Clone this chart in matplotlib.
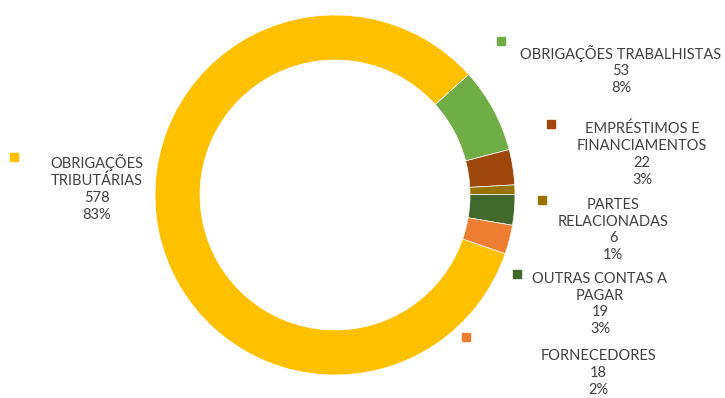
import matplotlib
matplotlib.use("Agg")
import matplotlib.pyplot as plt
from matplotlib.patches import Rectangle

# dados do gráfico
categorias = ["OBRIGAÇÕES\nTRIBUTÁRIAS", "OBRIGAÇÕES TRABALHISTAS", "EMPRÉSTIMOS E\nFINANCIAMENTOS",
              "PARTES\nRELACIONADAS", "OUTRAS CONTAS A\nPAGAR", "FORNECEDORES"]
valores = [578, 53, 22, 6, 19, 18]
percentuais = ["83%", "8%", "3%", "1%", "3%", "2%"]
cores = ["#FFC000", "#70AD47", "#9E480E", "#997300", "#43682B", "#ED7D31"]

W, H = 725, 398
fig = plt.figure(figsize=(W / 100, H / 100), dpi=100)

def px(x, y):
    return x / W, 1 - y / H

# rosca: centro (335,195), raio 180 px
ax = fig.add_axes([155 / W, (H - 375) / H, 360 / W, 360 / H])
ax.pie(valores, colors=cores, startangle=-19, counterclock=False, radius=1,
       wedgeprops=dict(width=0.25, edgecolor="white", linewidth=0.5))
ax.set_xlim(-1, 1)
ax.set_ylim(-1, 1)
ax.set_aspect("equal")
ax.axis("off")

# posições dos rótulos (centro do bloco de texto) e das chaves
pos_texto = [(97, 188), (621, 70), (642, 154), (613, 230), (600, 304), (598, 373)]
pos_chave = [(14, 157), (501, 41), (551, 124), (542, 200), (517, 274), (466, 337)]

fs = 10.5
for i in range(len(valores)):
    rotulo = f"{categorias[i]}\n{valores[i]}\n{percentuais[i]}"
    x, y = px(*pos_texto[i])
    fig.text(x, y, rotulo, ha="center", va="center", fontsize=fs, color="#404040",
             family="Lato", linespacing=18.5 / (fs * 100 / 72))
    kx, ky = pos_chave[i]
    fig.patches.append(Rectangle(px(kx - 4, ky + 4), 8 / W, 8 / H, color=cores[i],
                                 transform=fig.transFigure, figure=fig))

fig.savefig("out.png", dpi=100)
